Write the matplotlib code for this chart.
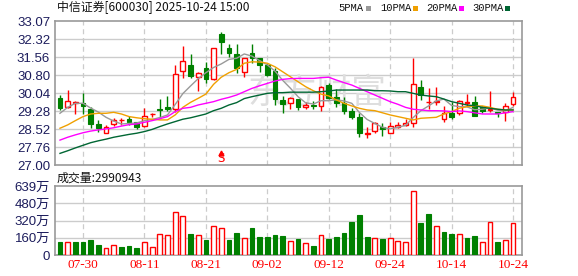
import numpy as np
import matplotlib
matplotlib.use("Agg")
import matplotlib.pyplot as plt
from matplotlib.patches import Rectangle

# daily candles, 2025-07-25 .. 2025-10-24 (60 trading days)
opens = [29.81, 29.46, 29.60, 29.60, 29.35, 28.73, 28.36, 28.72, 28.88, 28.94,
         28.80, 28.64, 29.13, 29.37, 29.45, 29.35, 30.96, 31.22, 30.72, 31.08,
         30.61, 32.52, 31.92, 31.68, 30.93, 31.71, 31.52, 31.22, 30.97, 29.74,
         29.60, 29.78, 29.46, 29.53, 29.49, 30.37, 29.85, 29.60, 29.29, 29.04,
         28.29, 28.45, 28.59, 28.36, 28.62, 28.69, 28.76, 30.30, 29.65, 29.67,
         28.93, 29.20, 29.18, 29.62, 29.65, 29.43, 29.33, 29.25, 29.25, 29.56]
highs = [29.95, 30.16, 29.70, 30.05, 29.43, 28.90, 28.69, 28.97, 29.00, 29.07,
         28.83, 29.39, 29.18, 29.78, 29.91, 31.22, 32.02, 31.67, 30.93, 31.35,
         31.95, 32.59, 32.10, 32.10, 31.50, 32.10, 31.53, 31.31, 31.10, 29.91,
         29.88, 29.78, 29.67, 29.70, 30.33, 30.44, 30.19, 29.85, 29.39, 29.18,
         28.62, 28.83, 28.78, 28.83, 28.83, 28.93, 31.50, 30.58, 30.23, 30.30,
         29.49, 29.67, 29.74, 29.99, 29.91, 29.49, 30.13, 29.25, 29.60, 30.09]
lows = [29.32, 29.42, 29.15, 29.15, 28.57, 28.40, 28.34, 28.64, 28.69, 28.69,
        28.53, 28.59, 29.04, 29.01, 29.29, 29.25, 30.65, 30.65, 30.12, 30.47,
        30.58, 31.67, 31.57, 30.89, 30.72, 31.31, 30.93, 30.76, 29.53, 29.20,
        29.35, 29.32, 29.35, 29.35, 29.29, 29.77, 29.43, 29.15, 28.94, 28.17,
        28.15, 28.36, 28.22, 28.36, 28.55, 28.64, 28.62, 29.74, 29.35, 29.53,
        28.83, 28.93, 29.11, 29.49, 29.07, 29.20, 29.25, 29.04, 28.87, 29.49]
closes = [29.42, 29.70, 29.67, 29.49, 28.73, 28.55, 28.59, 28.90, 28.90, 28.83,
          28.62, 29.08, 29.16, 29.33, 29.35, 30.82, 31.40, 30.76, 30.86, 30.61,
          31.92, 32.17, 31.71, 31.08, 31.50, 31.50, 31.22, 30.80, 29.78, 29.57,
          29.81, 29.43, 29.53, 29.49, 30.30, 29.81, 29.60, 29.29, 29.01, 28.36,
          28.33, 28.76, 28.50, 28.66, 28.69, 28.76, 30.40, 29.95, 29.67, 29.70,
          29.18, 29.04, 29.70, 29.65, 29.08, 29.27, 29.35, 29.20, 29.50, 29.85]

# volume in 万 (x10k)
volume = [123, 120, 123, 123, 139, 93, 62, 90, 74, 83,
          65, 117, 71, 191, 182, 395, 358, 194, 182, 139,
          265, 247, 139, 204, 154, 250, 167, 167, 185, 176,
          130, 148, 111, 83, 182, 148, 167, 204, 309, 370,
          167, 154, 148, 154, 130, 120, 590, 296, 380, 265,
          213, 194, 191, 157, 176, 120, 306, 120, 139, 296]

# moving averages as drawn
ma5 = [29.18, 29.43, 29.60, 29.60, 29.40, 29.23, 29.01, 28.85, 28.73, 28.75,
       28.77, 28.87, 28.92, 29.00, 29.11, 29.55, 30.01, 30.33, 30.64, 30.89,
       31.11, 31.26, 31.45, 31.50, 31.68, 31.59, 31.40, 31.22, 30.96, 30.57,
       30.24, 29.88, 29.62, 29.57, 29.71, 29.71, 29.75, 29.70, 29.60, 29.21,
       28.92, 28.75, 28.59, 28.52, 28.59, 28.67, 29.00, 29.29, 29.49, 29.70,
       29.78, 29.51, 29.46, 29.45, 29.33, 29.35, 29.41, 29.31, 29.28, 29.43]
ma10 = [28.55, 28.69, 28.87, 29.04, 29.15, 29.18, 29.18, 29.22, 29.15, 29.04,
        28.99, 28.95, 28.93, 28.90, 28.90, 29.11, 29.43, 29.64, 29.81, 29.99,
        30.40, 30.70, 30.89, 31.03, 31.29, 31.35, 31.34, 31.29, 31.14, 30.93,
        30.72, 30.51, 30.30, 30.13, 29.99, 29.91, 29.74, 29.60, 29.49, 29.39,
        29.32, 29.29, 29.20, 29.11, 29.04, 28.97, 28.90, 28.97, 28.99, 29.01,
        29.15, 29.25, 29.39, 29.46, 29.49, 29.49, 29.43, 29.35, 29.32, 29.32]
ma20 = [28.05, 28.17, 28.27, 28.36, 28.43, 28.48, 28.52, 28.57, 28.64, 28.70,
        28.73, 28.80, 28.87, 28.95, 29.04, 29.25, 29.39, 29.43, 29.53, 29.60,
        29.67, 29.77, 29.85, 29.95, 30.09, 30.23, 30.34, 30.44, 30.54, 30.61,
        30.64, 30.65, 30.65, 30.65, 30.68, 30.70, 30.58, 30.47, 30.37, 30.23,
        30.09, 29.95, 29.81, 29.67, 29.56, 29.43, 29.35, 29.32, 29.29, 29.29,
        29.28, 29.25, 29.28, 29.25, 29.20, 29.15, 29.15, 29.15, 29.20, 29.25]
ma30 = [27.49, 27.60, 27.72, 27.83, 27.94, 28.02, 28.09, 28.17, 28.23, 28.29,
        28.34, 28.41, 28.50, 28.62, 28.73, 28.83, 28.93, 28.99, 29.07, 29.15,
        29.29, 29.39, 29.53, 29.63, 29.80, 29.88, 29.95, 30.02, 30.05, 30.05,
        30.07, 30.07, 30.07, 30.07, 30.09, 30.12, 30.16, 30.16, 30.16, 30.16,
        30.16, 30.13, 30.13, 30.12, 30.09, 30.09, 30.02, 29.95, 29.91, 29.88,
        29.78, 29.67, 29.60, 29.53, 29.50, 29.43, 29.39, 29.35, 29.32, 29.32]

tick_pos = [3, 11, 19, 27, 35, 43, 51, 59]
tick_labels = ["07-30", "08-11", "08-21", "09-02", "09-12", "09-24", "10-14", "10-24"]
price_ticks = ["27.00", "27.76", "28.52", "29.28", "30.04", "30.80", "31.56", "32.32", "33.07"]
vol_ticks = ["0", "160万", "320万", "480万", "639万"]
signal_idx = 21

RED = "#ff0000"
GREEN = "#008000"
GRID = "#cccccc"
FRAME = "#999999"
LABEL = "#1c1c5c"
ma_colors = ["#999999", "#f0a000", "#ff00ff", "#006633"]
ma_names = ["5PMA", "10PMA", "20PMA", "30PMA"]
cjk = ["Noto Sans CJK SC", "DejaVu Sans"]
num_font = ["Liberation Sans", "Noto Sans CJK SC"]

W, H = 578, 276
fig = plt.figure(figsize=(W / 100, H / 100), dpi=100)
fig.patch.set_facecolor("white")

def fx(px):
    return px / W

def fy(py):
    return 1 - py / H

ax = fig.add_axes([fx(55), fy(165), fx(522) - fx(55), fy(21) - fy(165)])
axv = fig.add_axes([fx(55), fy(255), fx(522) - fx(55), fy(186) - fy(255)])

n = len(closes)
x = np.arange(n)
o = np.array(opens)
c = np.array(closes)
up = c >= o
bw = 0.62

for a in (ax, axv):
    a.set_xlim(-0.65, n - 1 + 1.17)
    for s in a.spines.values():
        s.set_color(FRAME)
        s.set_linewidth(1.2)
    for p in tick_pos:
        a.axvline(p, color=GRID, lw=0.9, ls=(0, (4, 3)), zorder=0)
    a.tick_params(length=0)

# price panel
ylo, yhi = float(price_ticks[0]), float(price_ticks[-1])
ax.set_ylim(ylo, yhi)
yt = np.linspace(ylo, yhi, len(price_ticks))
ax.set_yticks(yt)
ax.set_yticklabels(price_ticks, color=LABEL, fontsize=9.5, family=num_font)
for v in yt[1:-1]:
    ax.axhline(v, color=GRID, lw=1.0, zorder=0)
ax.set_xticks([])

ax.text(0.56, 0.50, "东方财富", transform=ax.transAxes, ha="center", va="center",
        fontsize=25, color="#dedede", family=cjk, zorder=0.5)

for i in range(n):
    col = RED if up[i] else GREEN
    ax.vlines(x[i], lows[i], highs[i], color=col, lw=1.0, zorder=2)
    bot = min(o[i], c[i])
    hgt = max(abs(c[i] - o[i]), 0.012)
    if up[i]:
        ax.bar(x[i], hgt, bottom=bot, width=bw, facecolor="white", edgecolor=col, lw=1.0, zorder=3)
    else:
        ax.bar(x[i], hgt, bottom=bot, width=bw, facecolor=col, edgecolor=col, lw=0.8, zorder=3)

for ma, col in zip([ma5, ma10, ma20, ma30], ma_colors):
    ax.plot(x, ma, color=col, lw=1.0, zorder=4)

ax.plot(signal_idx, 27.50, marker="^", color=RED, ms=3.5, zorder=5, clip_on=False)
ax.text(signal_idx, 27.02, "S", color=RED, ha="center", va="bottom", fontsize=8.5,
        family="DejaVu Sans", zorder=5)

# volume panel
vmax = 639
axv.set_ylim(0, vmax)
vt = np.linspace(0, vmax, len(vol_ticks))
axv.set_yticks(vt)
axv.set_yticklabels(vol_ticks, color=LABEL, fontsize=9.5, family=num_font)
for v in vt[1:-1]:
    axv.axhline(v, color=GRID, lw=1.0, zorder=0)

prev = np.concatenate([[c[0]], c[:-1]])
vol_up = c > prev
vol_up[0] = False
for i in range(n):
    if vol_up[i]:
        axv.bar(x[i], volume[i], width=bw, facecolor="white", edgecolor=RED, lw=1.0, zorder=3)
    else:
        axv.bar(x[i], volume[i], width=bw, facecolor=GREEN, edgecolor=GREEN, lw=0.8, zorder=3)

axv.set_xticks(tick_pos)
axv.set_xticklabels(tick_labels, color=RED, fontsize=9.5, family="Liberation Serif")
axv.tick_params(axis="x", pad=3)

# header texts
fig.text(fx(57), fy(8), "中信证券[600030] 2025-10-24 15:00", fontsize=8.6, family=cjk,
         va="center", ha="left", color="#111111")
fig.text(fx(57), fy(178), "成交量:2990943", fontsize=8.6, family=cjk,
         va="center", ha="left", color="#111111")

legend_x = [338, 380, 426, 472]
square_x = [366, 413, 459, 505]
for px, sx, name, col in zip(legend_x, square_x, ma_names, ma_colors):
    fig.text(fx(px), fy(8), name, fontsize=7.6, family="Liberation Mono",
             va="center", ha="left", color="#111111")
    fig.patches.append(Rectangle((fx(sx), fy(10.5)), fx(5), 4.5 / H,
                                 transform=fig.transFigure, facecolor=col, edgecolor="none"))

fig.savefig("out.png", dpi=100, facecolor="white")
